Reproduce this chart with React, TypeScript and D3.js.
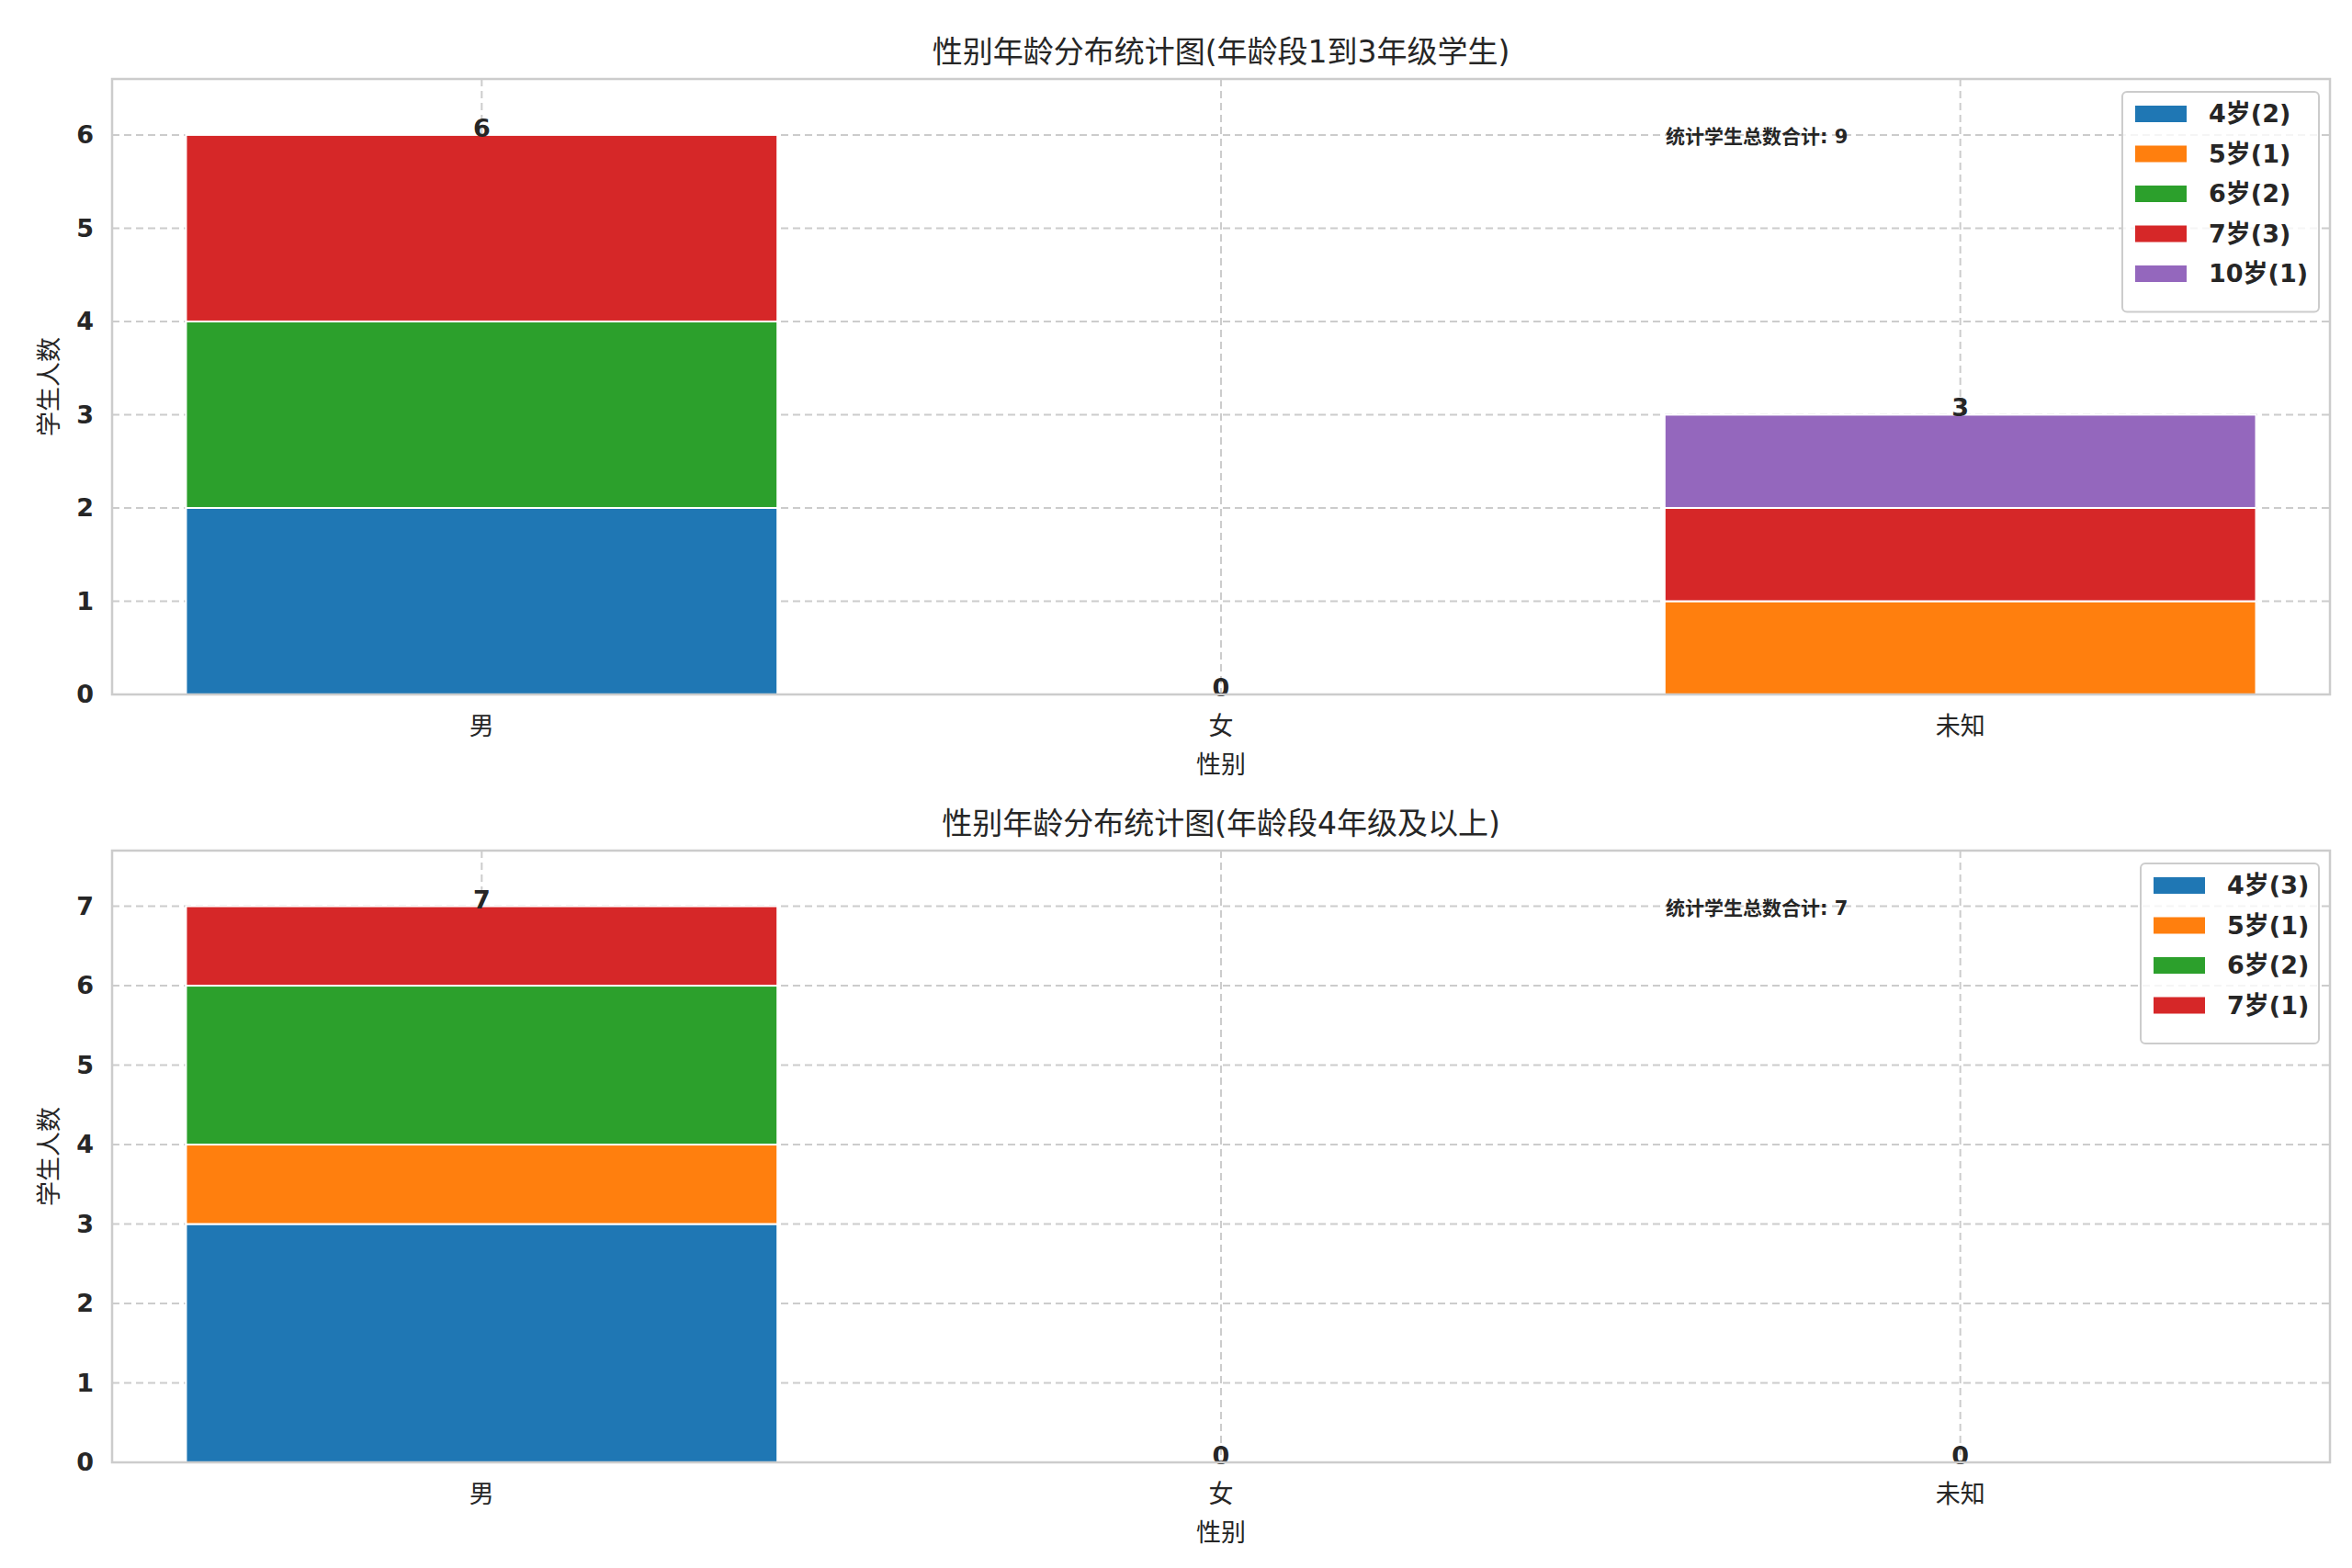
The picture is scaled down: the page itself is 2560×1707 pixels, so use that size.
import React from "react";
import * as d3 from "d3";

const categories = ["男", "女", "未知"];
const colors = ["#1f77b4", "#ff7f0e", "#2ca02c", "#d62728", "#9467bd"];

const top_series = ["4岁(2)", "5岁(1)", "6岁(2)", "7岁(3)", "10岁(1)"];
const top_values = [
  [2, 0, 0],
  [0, 0, 1],
  [2, 0, 0],
  [2, 0, 1],
  [0, 0, 1],
];
const bottom_series = ["4岁(3)", "5岁(1)", "6岁(2)", "7岁(1)"];
const bottom_values = [
  [3, 0, 0],
  [1, 0, 0],
  [2, 0, 0],
  [1, 0, 0],
];
const titles = ["性别年龄分布统计图(年龄段1到3年级学生)", "性别年龄分布统计图(年龄段4年级及以上)"];
const totals = ["统计学生总数合计: 9", "统计学生总数合计: 7"];
const yLabel = "学生人数";
const xLabel = "性别";

const W = 2560, H = 1707;
const L = 114, R = 2528;
const FONT = "'DejaVu Sans', 'Noto Sans CJK SC', sans-serif";

function Panel({ top, bottom, series, values, title, total }: any) {
  const n = categories.length;
  const totalsPer = categories.map((_, i) => d3.sum(values, (v: number[]) => v[i]));
  const maxT = d3.max(totalsPer) as number;
  const x = d3.scaleBand().domain(categories).range([L, R]).paddingInner(0.2).paddingOuter(0.1);
  const y = d3.scaleLinear().domain([0, maxT * 1.1]).range([bottom, top]);
  const ticks = d3.range(0, Math.floor(maxT * 1.1) + 1);
  const stack = d3.stack<any>().keys(series.map((_: any, i: number) => String(i)))(
    categories.map((_, ci) => {
      const o: any = {};
      values.forEach((v: number[], si: number) => (o[String(si)] = v[ci]));
      return o;
    })
  );
  const legW = series.some((s: string) => s.startsWith("10")) ? 214 : 194;
  const legH = 22 + series.length * 43.5;
  return (
    <g>
      <text x={(L + R) / 2} y={top - 18} textAnchor="middle" fontSize={33} fill="#262626" fontFamily={FONT}>{title}</text>
      {ticks.map((t) => (
        <g key={t}>
          <line x1={L} x2={R} y1={y(t)} y2={y(t)} stroke="#cccccc" strokeWidth={2} strokeDasharray="8,5" />
          <text x={L - 20} y={y(t)} dy="0.35em" textAnchor="end" fontSize={27} fontWeight="bold" fill="#262626" fontFamily={FONT}>{t}</text>
        </g>
      ))}
      {categories.map((c) => (
        <g key={c}>
          <line x1={x(c)! + x.bandwidth() / 2} x2={x(c)! + x.bandwidth() / 2} y1={top} y2={bottom} stroke="#cccccc" strokeWidth={2} strokeDasharray="8,5" />
          <text x={x(c)! + x.bandwidth() / 2} y={bottom + 44} textAnchor="middle" fontSize={27} fill="#262626" fontFamily={FONT}>{c}</text>
        </g>
      ))}
      {stack.map((layer, si) =>
        layer.map((d, ci) =>
          d[1] - d[0] > 0 ? (
            <rect key={si + "-" + ci} x={x(categories[ci])} width={x.bandwidth()} y={y(d[1])} height={y(d[0]) - y(d[1])} fill={colors[si]} stroke="#fff" strokeWidth={2} />
          ) : null
        )
      )}
      {categories.map((c, i) => (
        <text key={c} x={x(c)! + x.bandwidth() / 2} y={y(totalsPer[i]) + 2} textAnchor="middle" fontSize={27} fontWeight="bold" fill="#262626" fontFamily={FONT}>{totalsPer[i]}</text>
      ))}
      <rect x={L} y={top} width={R - L} height={bottom - top} fill="none" stroke="#cccccc" strokeWidth={2.5} />
      <text x={(L + R) / 2} y={bottom + 86} textAnchor="middle" fontSize={27} fill="#262626" fontFamily={FONT}>{xLabel}</text>
      <text transform={`translate(${46},${(top + bottom) / 2}) rotate(-90)`} textAnchor="middle" dy="0.35em" fontSize={27} fill="#262626" fontFamily={FONT}>{yLabel}</text>
      <text x={1805} y={y(maxT) + 2} dy="0.35em" fontSize={21} fontWeight="bold" fill="#262626" fontFamily={FONT}>{total}</text>
      <g transform={`translate(${R - 12 - legW},${top + 14})`}>
        <rect width={legW} height={legH} rx={5} fill="#fff" fillOpacity={0.8} stroke="#cccccc" strokeWidth={2} />
        {series.map((s: string, i: number) => (
          <g key={s} transform={`translate(14,${15 + i * 43.5})`}>
            <rect width={56} height={18} fill={colors[i]} />
            <text x={80} y={9} dy="0.35em" fontSize={27} fontWeight="bold" fill="#262626" fontFamily={FONT}>{s}</text>
          </g>
        ))}
      </g>
    </g>
  );
}

export default function App() {
  return (
    <svg width={W} height={H} style={{ display: "block", background: "#fff" }}>
      <rect width={W} height={H} fill="#fff" />
      <Panel top={78} bottom={748} series={top_series} values={top_values} title={titles[0]} total={totals[0]} />
      <Panel top={918} bottom={1584} series={bottom_series} values={bottom_values} title={titles[1]} total={totals[1]} />
    </svg>
  );
}
